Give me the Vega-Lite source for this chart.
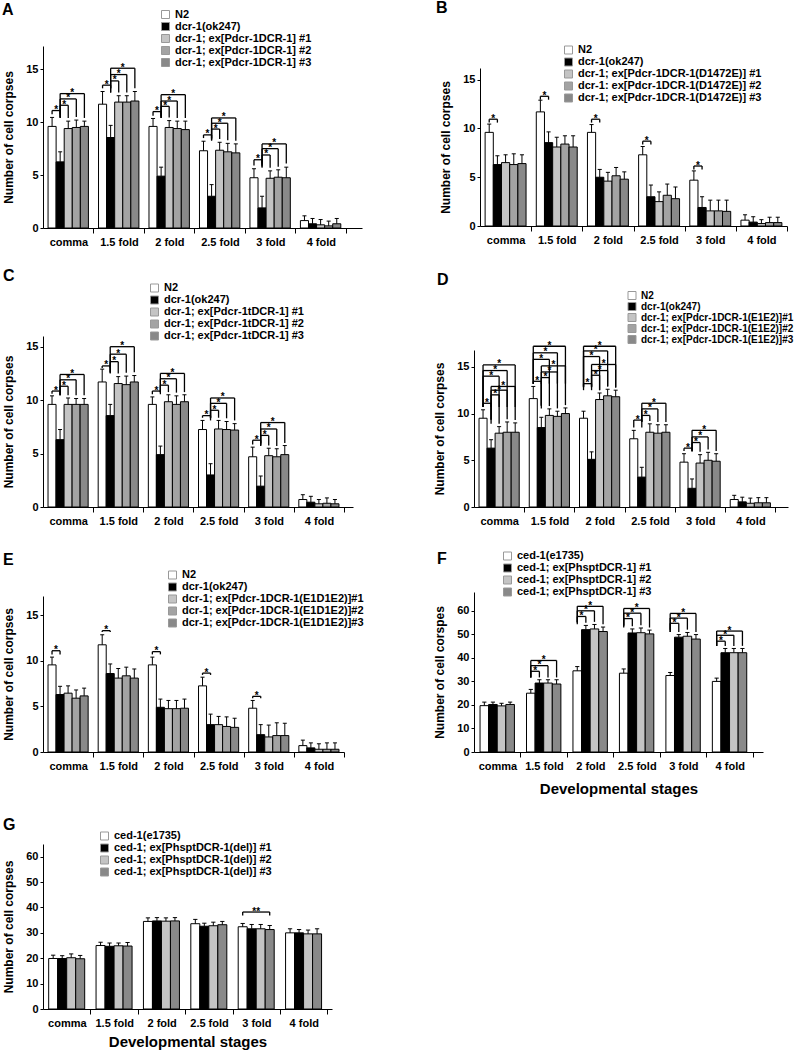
{
"$schema": "https://vega.github.io/schema/vega-lite/v6.json",
"background": "white",
"padding": {"left": 2, "top": -1, "right": 0, "bottom": 2},
"datasets": {
"strains": [
{"k":"A0","name":"N2"},{"k":"A1","name":"dcr-1(ok247)"},{"k":"A2","name":"dcr-1; ex[Pdcr-1DCR-1] #1"},{"k":"A3","name":"dcr-1; ex[Pdcr-1DCR-1] #2"},{"k":"A4","name":"dcr-1; ex[Pdcr-1DCR-1] #3"},
{"k":"B0","name":"N2"},{"k":"B1","name":"dcr-1(ok247)"},{"k":"B2","name":"dcr-1; ex[Pdcr-1DCR-1(D1472E)] #1"},{"k":"B3","name":"dcr-1: ex[Pdcr-1DCR-1(D1472E)] #2"},{"k":"B4","name":"dcr-1; ex[Pdcr-1DCR-1(D1472E)] #3"},
{"k":"C0","name":"N2"},{"k":"C1","name":"dcr-1(ok247)"},{"k":"C2","name":"dcr-1; ex[Pdcr-1tDCR-1] #1"},{"k":"C3","name":"dcr-1; ex[Pdcr-1tDCR-1] #2"},{"k":"C4","name":"dcr-1; ex[Pdcr-1tDCR-1] #3"},
{"k":"D0","name":"N2"},{"k":"D1","name":"dcr-1(ok247)"},{"k":"D2","name":"dcr-1; ex[Pdcr-1DCR-1(E1E2)]#1"},{"k":"D3","name":"dcr-1; ex[Pdcr-1DCR-1(E1E2)]#2"},{"k":"D4","name":"dcr-1; ex[Pdcr-1DCR-1(E1E2)]#3"},
{"k":"E0","name":"N2"},{"k":"E1","name":"dcr-1(ok247)"},{"k":"E2","name":"dcr-1; ex[Pdcr-1DCR-1(E1D1E2)]#1"},{"k":"E3","name":"dcr-1; ex[Pdcr-1DCR-1(E1D1E2)]#2"},{"k":"E4","name":"dcr-1; ex[Pdcr-1DCR-1(E1D1E2)]#3"},
{"k":"F0","name":"ced-1(e1735)"},{"k":"F1","name":"ced-1; ex[PhsptDCR-1] #1"},{"k":"F2","name":"ced-1; ex[PhsptDCR-1] #2"},{"k":"F3","name":"ced-1; ex[PhsptDCR-1] #3"},
{"k":"G0","name":"ced-1(e1735)"},{"k":"G1","name":"ced-1; ex[PhsptDCR-1(del)] #1"},{"k":"G2","name":"ced-1; ex[PhsptDCR-1(del)] #2"},{"k":"G3","name":"ced-1; ex[PhsptDCR-1(del)] #3"}
],
"bars": [
{"p":"A","s":"comma","g":0,"m":9.6,"e":0.85},{"p":"A","s":"comma","g":1,"m":6.25,"e":0.95},{"p":"A","s":"comma","g":2,"m":9.4,"e":0.7},{"p":"A","s":"comma","g":3,"m":9.5,"e":0.7},{"p":"A","s":"comma","g":4,"m":9.6,"e":0.5},
{"p":"A","s":"1.5 fold","g":0,"m":11.7,"e":1.2},{"p":"A","s":"1.5 fold","g":1,"m":8.55,"e":1.15},{"p":"A","s":"1.5 fold","g":2,"m":11.9,"e":0.6},{"p":"A","s":"1.5 fold","g":3,"m":11.9,"e":0.6},{"p":"A","s":"1.5 fold","g":4,"m":12.0,"e":0.9},
{"p":"A","s":"2 fold","g":0,"m":9.6,"e":0.75},{"p":"A","s":"2 fold","g":1,"m":4.9,"e":0.85},{"p":"A","s":"2 fold","g":2,"m":9.5,"e":0.65},{"p":"A","s":"2 fold","g":3,"m":9.4,"e":0.7},{"p":"A","s":"2 fold","g":4,"m":9.3,"e":0.8},
{"p":"A","s":"2.5 fold","g":0,"m":7.3,"e":0.9},{"p":"A","s":"2.5 fold","g":1,"m":3.0,"e":1.1},{"p":"A","s":"2.5 fold","g":2,"m":7.35,"e":0.75},{"p":"A","s":"2.5 fold","g":3,"m":7.2,"e":0.8},{"p":"A","s":"2.5 fold","g":4,"m":7.1,"e":0.85},
{"p":"A","s":"3 fold","g":0,"m":4.75,"e":0.85},{"p":"A","s":"3 fold","g":1,"m":1.9,"e":1.1},{"p":"A","s":"3 fold","g":2,"m":4.7,"e":0.7},{"p":"A","s":"3 fold","g":3,"m":4.8,"e":0.7},{"p":"A","s":"3 fold","g":4,"m":4.75,"e":1.0},
{"p":"A","s":"4 fold","g":0,"m":0.7,"e":0.45},{"p":"A","s":"4 fold","g":1,"m":0.4,"e":0.5},{"p":"A","s":"4 fold","g":2,"m":0.3,"e":0.5},{"p":"A","s":"4 fold","g":3,"m":0.2,"e":0.45},{"p":"A","s":"4 fold","g":4,"m":0.4,"e":0.5},
{"p":"B","s":"comma","g":0,"m":9.6,"e":0.85},{"p":"B","s":"comma","g":1,"m":6.3,"e":0.9},{"p":"B","s":"comma","g":2,"m":6.5,"e":0.8},{"p":"B","s":"comma","g":3,"m":6.3,"e":1.1},{"p":"B","s":"comma","g":4,"m":6.4,"e":0.9},
{"p":"B","s":"1.5 fold","g":0,"m":11.7,"e":1.2},{"p":"B","s":"1.5 fold","g":1,"m":8.55,"e":1.1},{"p":"B","s":"1.5 fold","g":2,"m":8.1,"e":1.0},{"p":"B","s":"1.5 fold","g":3,"m":8.4,"e":0.85},{"p":"B","s":"1.5 fold","g":4,"m":8.1,"e":1.15},
{"p":"B","s":"2 fold","g":0,"m":9.6,"e":0.8},{"p":"B","s":"2 fold","g":1,"m":5.0,"e":0.8},{"p":"B","s":"2 fold","g":2,"m":4.6,"e":0.9},{"p":"B","s":"2 fold","g":3,"m":5.15,"e":0.85},{"p":"B","s":"2 fold","g":4,"m":4.8,"e":0.75},
{"p":"B","s":"2.5 fold","g":0,"m":7.3,"e":0.85},{"p":"B","s":"2.5 fold","g":1,"m":3.0,"e":1.2},{"p":"B","s":"2.5 fold","g":2,"m":2.5,"e":1.0},{"p":"B","s":"2.5 fold","g":3,"m":3.15,"e":1.15},{"p":"B","s":"2.5 fold","g":4,"m":2.8,"e":1.2},
{"p":"B","s":"3 fold","g":0,"m":4.7,"e":0.95},{"p":"B","s":"3 fold","g":1,"m":1.9,"e":1.1},{"p":"B","s":"3 fold","g":2,"m":1.55,"e":1.1},{"p":"B","s":"3 fold","g":3,"m":1.55,"e":1.1},{"p":"B","s":"3 fold","g":4,"m":1.5,"e":1.15},
{"p":"B","s":"4 fold","g":0,"m":0.6,"e":0.55},{"p":"B","s":"4 fold","g":1,"m":0.4,"e":0.55},{"p":"B","s":"4 fold","g":2,"m":0.25,"e":0.4},{"p":"B","s":"4 fold","g":3,"m":0.35,"e":0.55},{"p":"B","s":"4 fold","g":4,"m":0.35,"e":0.55},
{"p":"C","s":"comma","g":0,"m":9.6,"e":0.8},{"p":"C","s":"comma","g":1,"m":6.3,"e":0.95},{"p":"C","s":"comma","g":2,"m":9.6,"e":0.6},{"p":"C","s":"comma","g":3,"m":9.6,"e":0.55},{"p":"C","s":"comma","g":4,"m":9.6,"e":0.55},
{"p":"C","s":"1.5 fold","g":0,"m":11.7,"e":1.2},{"p":"C","s":"1.5 fold","g":1,"m":8.55,"e":1.05},{"p":"C","s":"1.5 fold","g":2,"m":11.55,"e":0.65},{"p":"C","s":"1.5 fold","g":3,"m":11.45,"e":0.8},{"p":"C","s":"1.5 fold","g":4,"m":11.7,"e":0.6},
{"p":"C","s":"2 fold","g":0,"m":9.6,"e":0.7},{"p":"C","s":"2 fold","g":1,"m":4.9,"e":0.8},{"p":"C","s":"2 fold","g":2,"m":9.85,"e":0.65},{"p":"C","s":"2 fold","g":3,"m":9.6,"e":0.8},{"p":"C","s":"2 fold","g":4,"m":9.85,"e":0.65},
{"p":"C","s":"2.5 fold","g":0,"m":7.25,"e":0.85},{"p":"C","s":"2.5 fold","g":1,"m":3.0,"e":1.05},{"p":"C","s":"2.5 fold","g":2,"m":7.3,"e":0.8},{"p":"C","s":"2.5 fold","g":3,"m":7.25,"e":0.75},{"p":"C","s":"2.5 fold","g":4,"m":7.2,"e":0.6},
{"p":"C","s":"3 fold","g":0,"m":4.7,"e":0.9},{"p":"C","s":"3 fold","g":1,"m":1.95,"e":0.95},{"p":"C","s":"3 fold","g":2,"m":4.8,"e":0.7},{"p":"C","s":"3 fold","g":3,"m":4.7,"e":0.75},{"p":"C","s":"3 fold","g":4,"m":4.9,"e":0.85},
{"p":"C","s":"4 fold","g":0,"m":0.7,"e":0.45},{"p":"C","s":"4 fold","g":1,"m":0.45,"e":0.55},{"p":"C","s":"4 fold","g":2,"m":0.3,"e":0.4},{"p":"C","s":"4 fold","g":3,"m":0.35,"e":0.5},{"p":"C","s":"4 fold","g":4,"m":0.3,"e":0.4},
{"p":"D","s":"comma","g":0,"m":9.5,"e":0.9},{"p":"D","s":"comma","g":1,"m":6.3,"e":0.9},{"p":"D","s":"comma","g":2,"m":7.9,"e":0.7},{"p":"D","s":"comma","g":3,"m":8.0,"e":1.1},{"p":"D","s":"comma","g":4,"m":8.0,"e":1.0},
{"p":"D","s":"1.5 fold","g":0,"m":11.6,"e":1.3},{"p":"D","s":"1.5 fold","g":1,"m":8.5,"e":1.1},{"p":"D","s":"1.5 fold","g":2,"m":9.8,"e":0.7},{"p":"D","s":"1.5 fold","g":3,"m":9.7,"e":0.55},{"p":"D","s":"1.5 fold","g":4,"m":10.0,"e":0.6},
{"p":"D","s":"2 fold","g":0,"m":9.5,"e":0.75},{"p":"D","s":"2 fold","g":1,"m":5.1,"e":0.8},{"p":"D","s":"2 fold","g":2,"m":11.5,"e":0.7},{"p":"D","s":"2 fold","g":3,"m":11.9,"e":0.7},{"p":"D","s":"2 fold","g":4,"m":11.8,"e":0.7},
{"p":"D","s":"2.5 fold","g":0,"m":7.3,"e":0.9},{"p":"D","s":"2.5 fold","g":1,"m":3.2,"e":1.05},{"p":"D","s":"2.5 fold","g":2,"m":8.0,"e":0.9},{"p":"D","s":"2.5 fold","g":3,"m":7.9,"e":0.9},{"p":"D","s":"2.5 fold","g":4,"m":8.0,"e":0.8},
{"p":"D","s":"3 fold","g":0,"m":4.8,"e":0.9},{"p":"D","s":"3 fold","g":1,"m":2.0,"e":1.0},{"p":"D","s":"3 fold","g":2,"m":4.7,"e":0.9},{"p":"D","s":"3 fold","g":3,"m":5.0,"e":0.85},{"p":"D","s":"3 fold","g":4,"m":4.9,"e":0.8},
{"p":"D","s":"4 fold","g":0,"m":0.8,"e":0.45},{"p":"D","s":"4 fold","g":1,"m":0.55,"e":0.5},{"p":"D","s":"4 fold","g":2,"m":0.4,"e":0.55},{"p":"D","s":"4 fold","g":3,"m":0.45,"e":0.55},{"p":"D","s":"4 fold","g":4,"m":0.45,"e":0.55},
{"p":"E","s":"comma","g":0,"m":9.55,"e":0.85},{"p":"E","s":"comma","g":1,"m":6.3,"e":0.9},{"p":"E","s":"comma","g":2,"m":6.45,"e":0.8},{"p":"E","s":"comma","g":3,"m":5.9,"e":0.9},{"p":"E","s":"comma","g":4,"m":6.15,"e":0.85},
{"p":"E","s":"1.5 fold","g":0,"m":11.75,"e":1.1},{"p":"E","s":"1.5 fold","g":1,"m":8.6,"e":1.05},{"p":"E","s":"1.5 fold","g":2,"m":8.1,"e":1.05},{"p":"E","s":"1.5 fold","g":3,"m":8.35,"e":0.95},{"p":"E","s":"1.5 fold","g":4,"m":8.1,"e":1.0},
{"p":"E","s":"2 fold","g":0,"m":9.55,"e":0.85},{"p":"E","s":"2 fold","g":1,"m":4.9,"e":0.9},{"p":"E","s":"2 fold","g":2,"m":4.75,"e":0.9},{"p":"E","s":"2 fold","g":3,"m":4.75,"e":0.9},{"p":"E","s":"2 fold","g":4,"m":4.8,"e":1.0},
{"p":"E","s":"2.5 fold","g":0,"m":7.25,"e":0.95},{"p":"E","s":"2.5 fold","g":1,"m":3.0,"e":1.15},{"p":"E","s":"2.5 fold","g":2,"m":3.0,"e":0.9},{"p":"E","s":"2.5 fold","g":3,"m":2.8,"e":1.05},{"p":"E","s":"2.5 fold","g":4,"m":2.7,"e":1.0},
{"p":"E","s":"3 fold","g":0,"m":4.8,"e":0.85},{"p":"E","s":"3 fold","g":1,"m":1.9,"e":1.1},{"p":"E","s":"3 fold","g":2,"m":1.65,"e":1.3},{"p":"E","s":"3 fold","g":3,"m":1.8,"e":1.4},{"p":"E","s":"3 fold","g":4,"m":1.8,"e":1.35},
{"p":"E","s":"4 fold","g":0,"m":0.7,"e":0.6},{"p":"E","s":"4 fold","g":1,"m":0.45,"e":0.55},{"p":"E","s":"4 fold","g":2,"m":0.3,"e":0.6},{"p":"E","s":"4 fold","g":3,"m":0.3,"e":0.7},{"p":"E","s":"4 fold","g":4,"m":0.3,"e":0.7},
{"p":"F","s":"comma","g":0,"m":19.7,"e":1.5},{"p":"F","s":"comma","g":1,"m":20.2,"e":1.0},{"p":"F","s":"comma","g":2,"m":19.6,"e":1.1},{"p":"F","s":"comma","g":3,"m":20.2,"e":1.0},
{"p":"F","s":"1.5 fold","g":0,"m":25.0,"e":1.6},{"p":"F","s":"1.5 fold","g":1,"m":29.3,"e":1.4},{"p":"F","s":"1.5 fold","g":2,"m":29.3,"e":1.4},{"p":"F","s":"1.5 fold","g":3,"m":28.9,"e":1.8},
{"p":"F","s":"2 fold","g":0,"m":34.5,"e":1.8},{"p":"F","s":"2 fold","g":1,"m":52.0,"e":1.8},{"p":"F","s":"2 fold","g":2,"m":52.3,"e":1.9},{"p":"F","s":"2 fold","g":3,"m":51.2,"e":1.9},
{"p":"F","s":"2.5 fold","g":0,"m":33.5,"e":1.8},{"p":"F","s":"2.5 fold","g":1,"m":50.6,"e":1.7},{"p":"F","s":"2.5 fold","g":2,"m":50.7,"e":2.0},{"p":"F","s":"2.5 fold","g":3,"m":50.2,"e":1.6},
{"p":"F","s":"3 fold","g":0,"m":32.5,"e":1.3},{"p":"F","s":"3 fold","g":1,"m":48.8,"e":1.1},{"p":"F","s":"3 fold","g":2,"m":49.2,"e":1.6},{"p":"F","s":"3 fold","g":3,"m":48.0,"e":1.9},
{"p":"F","s":"4 fold","g":0,"m":30.0,"e":1.4},{"p":"F","s":"4 fold","g":1,"m":42.2,"e":1.8},{"p":"F","s":"4 fold","g":2,"m":42.2,"e":1.8},{"p":"F","s":"4 fold","g":3,"m":42.2,"e":1.8},
{"p":"G","s":"comma","g":0,"m":19.9,"e":1.3},{"p":"G","s":"comma","g":1,"m":19.9,"e":1.1},{"p":"G","s":"comma","g":2,"m":20.2,"e":1.5},{"p":"G","s":"comma","g":3,"m":19.8,"e":1.3},
{"p":"G","s":"1.5 fold","g":0,"m":25.0,"e":1.3},{"p":"G","s":"1.5 fold","g":1,"m":24.7,"e":1.3},{"p":"G","s":"1.5 fold","g":2,"m":24.9,"e":1.1},{"p":"G","s":"1.5 fold","g":3,"m":24.8,"e":1.4},
{"p":"G","s":"2 fold","g":0,"m":34.5,"e":1.4},{"p":"G","s":"2 fold","g":1,"m":34.7,"e":1.3},{"p":"G","s":"2 fold","g":2,"m":34.6,"e":1.3},{"p":"G","s":"2 fold","g":3,"m":34.7,"e":1.3},
{"p":"G","s":"2.5 fold","g":0,"m":33.6,"e":1.7},{"p":"G","s":"2.5 fold","g":1,"m":32.6,"e":1.2},{"p":"G","s":"2.5 fold","g":2,"m":32.8,"e":1.4},{"p":"G","s":"2.5 fold","g":3,"m":33.2,"e":1.3},
{"p":"G","s":"3 fold","g":0,"m":32.4,"e":1.3},{"p":"G","s":"3 fold","g":1,"m":31.6,"e":1.7},{"p":"G","s":"3 fold","g":2,"m":31.6,"e":1.7},{"p":"G","s":"3 fold","g":3,"m":31.3,"e":1.6},
{"p":"G","s":"4 fold","g":0,"m":30.0,"e":1.6},{"p":"G","s":"4 fold","g":1,"m":30.0,"e":1.3},{"p":"G","s":"4 fold","g":2,"m":29.6,"e":1.5},{"p":"G","s":"4 fold","g":3,"m":29.6,"e":2.0}
],
"brk": [
{"p":"A","s":"comma","a":0,"b":1,"h":11.1,"lo":10.75,"t":"*"},{"p":"A","s":"comma","a":1,"b":2,"h":11.6,"lo":10.4,"t":"*"},{"p":"A","s":"comma","a":1,"b":3,"h":12.2,"lo":10.5,"t":"*"},{"p":"A","s":"comma","a":1,"b":4,"h":12.7,"lo":10.4,"t":"*"},
{"p":"A","s":"1.5 fold","a":0,"b":1,"h":13.5,"lo":13.2,"t":"*"},{"p":"A","s":"1.5 fold","a":1,"b":2,"h":13.9,"lo":12.8,"t":"*"},{"p":"A","s":"1.5 fold","a":1,"b":3,"h":14.5,"lo":12.8,"t":"*"},{"p":"A","s":"1.5 fold","a":1,"b":4,"h":15.1,"lo":13.2,"t":"*"},
{"p":"A","s":"2 fold","a":0,"b":1,"h":11.0,"lo":10.6,"t":"*"},{"p":"A","s":"2 fold","a":1,"b":2,"h":11.5,"lo":10.45,"t":"*"},{"p":"A","s":"2 fold","a":1,"b":3,"h":12.0,"lo":10.4,"t":"*"},{"p":"A","s":"2 fold","a":1,"b":4,"h":12.6,"lo":10.4,"t":"*"},
{"p":"A","s":"2.5 fold","a":0,"b":1,"h":8.8,"lo":8.5,"t":"*"},{"p":"A","s":"2.5 fold","a":1,"b":2,"h":9.35,"lo":8.4,"t":"*"},{"p":"A","s":"2.5 fold","a":1,"b":3,"h":9.9,"lo":8.3,"t":"*"},{"p":"A","s":"2.5 fold","a":1,"b":4,"h":10.4,"lo":8.25,"t":"*"},
{"p":"A","s":"3 fold","a":0,"b":1,"h":6.45,"lo":5.9,"t":"*"},{"p":"A","s":"3 fold","a":1,"b":2,"h":6.9,"lo":5.7,"t":"*"},{"p":"A","s":"3 fold","a":1,"b":3,"h":7.5,"lo":5.8,"t":"*"},{"p":"A","s":"3 fold","a":1,"b":4,"h":7.95,"lo":6.1,"t":"*"},
{"p":"B","s":"comma","a":0,"b":1,"h":10.95,"lo":10.6,"t":"*"},{"p":"B","s":"1.5 fold","a":0,"b":1,"h":13.3,"lo":12.95,"t":"*"},{"p":"B","s":"2 fold","a":0,"b":1,"h":10.95,"lo":10.6,"t":"*"},{"p":"B","s":"2.5 fold","a":0,"b":1,"h":8.7,"lo":8.35,"t":"*"},{"p":"B","s":"3 fold","a":0,"b":1,"h":6.15,"lo":5.8,"t":"*"},
{"p":"C","s":"comma","a":0,"b":1,"h":10.85,"lo":10.6,"t":"*"},{"p":"C","s":"comma","a":1,"b":2,"h":11.3,"lo":10.45,"t":"*"},{"p":"C","s":"comma","a":1,"b":3,"h":11.9,"lo":10.45,"t":"*"},{"p":"C","s":"comma","a":1,"b":4,"h":12.4,"lo":10.45,"t":"*"},
{"p":"C","s":"1.5 fold","a":0,"b":1,"h":13.2,"lo":13.0,"t":"*"},{"p":"C","s":"1.5 fold","a":1,"b":2,"h":13.6,"lo":12.5,"t":"*"},{"p":"C","s":"1.5 fold","a":1,"b":3,"h":14.3,"lo":12.55,"t":"*"},{"p":"C","s":"1.5 fold","a":1,"b":4,"h":15.0,"lo":12.6,"t":"*"},
{"p":"C","s":"2 fold","a":0,"b":1,"h":10.85,"lo":10.55,"t":"*"},{"p":"C","s":"2 fold","a":1,"b":2,"h":11.4,"lo":10.75,"t":"*"},{"p":"C","s":"2 fold","a":1,"b":3,"h":12.0,"lo":10.7,"t":"*"},{"p":"C","s":"2 fold","a":1,"b":4,"h":12.5,"lo":10.75,"t":"*"},
{"p":"C","s":"2.5 fold","a":0,"b":1,"h":8.55,"lo":8.35,"t":"*"},{"p":"C","s":"2.5 fold","a":1,"b":2,"h":9.05,"lo":8.35,"t":"*"},{"p":"C","s":"2.5 fold","a":1,"b":3,"h":9.7,"lo":8.3,"t":"*"},{"p":"C","s":"2.5 fold","a":1,"b":4,"h":10.2,"lo":8.1,"t":"*"},
{"p":"C","s":"3 fold","a":0,"b":1,"h":6.25,"lo":5.85,"t":"*"},{"p":"C","s":"3 fold","a":1,"b":2,"h":6.7,"lo":5.75,"t":"*"},{"p":"C","s":"3 fold","a":1,"b":3,"h":7.3,"lo":5.7,"t":"*"},{"p":"C","s":"3 fold","a":1,"b":4,"h":7.9,"lo":6.0,"t":"*"},
{"p":"D","s":"comma","a":0,"b":1,"h":11.1,"lo":10.7,"t":"*"},{"p":"D","s":"comma","a":1,"b":2,"h":12.0,"lo":8.9,"t":"*"},{"p":"D","s":"comma","a":1,"b":3,"h":12.5,"lo":9.4,"t":"*"},{"p":"D","s":"comma","a":1,"b":4,"h":12.9,"lo":9.3,"t":"*"},{"p":"D","s":"comma","a":0,"b":2,"h":14.0,"lo":10.7,"t":"*"},{"p":"D","s":"comma","a":0,"b":3,"h":14.6,"lo":10.7,"t":"*"},{"p":"D","s":"comma","a":0,"b":4,"h":15.2,"lo":10.7,"t":"*"},
{"p":"D","s":"1.5 fold","a":0,"b":1,"h":13.45,"lo":13.15,"t":"*"},{"p":"D","s":"1.5 fold","a":1,"b":2,"h":13.85,"lo":10.8,"t":"*"},{"p":"D","s":"1.5 fold","a":1,"b":3,"h":14.45,"lo":10.55,"t":"*"},{"p":"D","s":"1.5 fold","a":1,"b":4,"h":15.1,"lo":10.9,"t":"*"},{"p":"D","s":"1.5 fold","a":0,"b":2,"h":15.8,"lo":13.2,"t":"*"},{"p":"D","s":"1.5 fold","a":0,"b":3,"h":16.5,"lo":13.2,"t":"*"},{"p":"D","s":"1.5 fold","a":0,"b":4,"h":17.2,"lo":13.2,"t":"*"},
{"p":"D","s":"2 fold","a":0,"b":1,"h":13.2,"lo":12.85,"t":"*"},{"p":"D","s":"2 fold","a":1,"b":2,"h":14.1,"lo":12.5,"t":"*"},{"p":"D","s":"2 fold","a":1,"b":3,"h":14.6,"lo":12.9,"t":"*"},{"p":"D","s":"2 fold","a":1,"b":4,"h":15.25,"lo":12.8,"t":"*"},{"p":"D","s":"2 fold","a":0,"b":2,"h":16.1,"lo":12.5,"t":"*"},{"p":"D","s":"2 fold","a":0,"b":3,"h":16.7,"lo":12.9,"t":"*"},{"p":"D","s":"2 fold","a":0,"b":4,"h":17.2,"lo":12.8,"t":"*"},
{"p":"D","s":"2.5 fold","a":0,"b":1,"h":9.3,"lo":8.5,"t":"*"},{"p":"D","s":"2.5 fold","a":1,"b":2,"h":9.8,"lo":9.2,"t":"*"},{"p":"D","s":"2.5 fold","a":1,"b":3,"h":10.5,"lo":9.1,"t":"*"},{"p":"D","s":"2.5 fold","a":1,"b":4,"h":11.1,"lo":9.1,"t":"*"},
{"p":"D","s":"3 fold","a":0,"b":1,"h":6.3,"lo":6.0,"t":"*"},{"p":"D","s":"3 fold","a":1,"b":2,"h":6.9,"lo":5.9,"t":"*"},{"p":"D","s":"3 fold","a":1,"b":3,"h":7.5,"lo":6.15,"t":"*"},{"p":"D","s":"3 fold","a":1,"b":4,"h":8.2,"lo":6.0,"t":"*"},
{"p":"E","s":"comma","a":0,"b":1,"h":11.1,"lo":10.7,"t":"*"},{"p":"E","s":"1.5 fold","a":0,"b":1,"h":13.3,"lo":13.15,"t":"*"},{"p":"E","s":"2 fold","a":0,"b":1,"h":11.0,"lo":10.7,"t":"*"},{"p":"E","s":"2.5 fold","a":0,"b":1,"h":8.65,"lo":8.45,"t":"*"},{"p":"E","s":"3 fold","a":0,"b":1,"h":6.1,"lo":5.9,"t":"*"},
{"p":"F","s":"1.5 fold","a":0,"b":1,"h":34.3,"lo":31.7,"t":"*"},{"p":"F","s":"1.5 fold","a":0,"b":2,"h":36.7,"lo":31.7,"t":"*"},{"p":"F","s":"1.5 fold","a":0,"b":3,"h":38.9,"lo":31.7,"t":"*"},
{"p":"F","s":"2 fold","a":0,"b":1,"h":57.6,"lo":54.9,"t":"*"},{"p":"F","s":"2 fold","a":0,"b":2,"h":60.0,"lo":55.3,"t":"*"},{"p":"F","s":"2 fold","a":0,"b":3,"h":61.9,"lo":54.3,"t":"*"},
{"p":"F","s":"2.5 fold","a":0,"b":1,"h":56.7,"lo":53.4,"t":"*"},{"p":"F","s":"2.5 fold","a":0,"b":2,"h":59.0,"lo":53.9,"t":"*"},{"p":"F","s":"2.5 fold","a":0,"b":3,"h":61.0,"lo":52.9,"t":"*"},
{"p":"F","s":"3 fold","a":0,"b":1,"h":54.7,"lo":51.0,"t":"*"},{"p":"F","s":"3 fold","a":0,"b":2,"h":56.9,"lo":52.0,"t":"*"},{"p":"F","s":"3 fold","a":0,"b":3,"h":58.9,"lo":51.0,"t":"*"},
{"p":"F","s":"4 fold","a":0,"b":1,"h":47.1,"lo":45.1,"t":"*"},{"p":"F","s":"4 fold","a":0,"b":2,"h":49.6,"lo":45.1,"t":"*"},{"p":"F","s":"4 fold","a":0,"b":3,"h":51.4,"lo":45.1,"t":"*"},
{"p":"G","s":"3 fold","a":0,"b":3,"h":38.2,"lo":36.8,"t":"**"}
]
},
"columns": 2,
"concat": [
 {"width": 319, "height": 182, "title": {"text": "A", "dx": -41, "offset": -8.5},
  "layer": [
   {"data": {"name": "bars"},
    "transform": [{"filter": "datum.p==='A'"},{"calculate": "datum.p+datum.g", "as": "k"},{"lookup": "k", "from": {"data": {"name": "strains"}, "key": "k", "fields": ["name"]}},
     {"calculate": "indexof(['comma','1.5 fold','2 fold','2.5 fold','3 fold','4 fold'],datum.s)+(datum.g-2)*0.16", "as": "xc"},
     {"calculate": "datum.xc-0.08", "as": "x1"},{"calculate": "datum.xc+0.08", "as": "x2"},{"calculate": "datum.xc-0.04", "as": "c1"},{"calculate": "datum.xc+0.04", "as": "c2"},{"calculate": "datum.m+datum.e", "as": "top"}],
    "layer": [
     {"mark": {"type": "rect", "stroke": "#000", "strokeWidth": 1},
      "encoding": {
       "x": {"field": "x1", "type": "quantitative", "scale": {"domain": [-0.5, 5.82], "nice": false, "zero": false}, "axis": {"values": [0.5,1.5,2.5,3.5,4.5,5.5], "labelExpr": "['comma','1.5 fold','2 fold','2.5 fold','3 fold','4 fold'][floor(datum.value)]", "labelOffset": -25, "title": null}},
       "x2": {"field": "x2"},
       "y": {"field": "m", "type": "quantitative", "scale": {"domain": [0, 17.2], "nice": false}, "axis": {"values": [0,5,10,15], "tickCount": 4, "title": "Number of cell corpses"}},
       "y2": {"datum": 0},
       "color": {"field": "name", "type": "nominal", "scale": {"domain": ["N2","dcr-1(ok247)","dcr-1; ex[Pdcr-1DCR-1] #1","dcr-1; ex[Pdcr-1DCR-1] #2","dcr-1; ex[Pdcr-1DCR-1] #3"], "range": ["#ffffff","#000000","#c4c4c4","#a3a3a3","#898989"]}, "legend": {"title": null, "legendX": 117, "legendY": -37}}
      }},
     {"mark": {"type": "rule", "color": "#000"}, "encoding": {"x": {"field": "xc", "type": "quantitative"}, "y": {"field": "m", "type": "quantitative"}, "y2": {"field": "top"}}},
     {"mark": {"type": "rule", "color": "#000"}, "encoding": {"x": {"field": "c1", "type": "quantitative"}, "x2": {"field": "c2"}, "y": {"field": "top", "type": "quantitative"}}}
    ]},
   {"data": {"name": "brk"},
    "transform": [{"filter": "datum.p==='A'"},{"calculate": "indexof(['comma','1.5 fold','2 fold','2.5 fold','3 fold','4 fold'],datum.s)", "as": "si"},
     {"calculate": "datum.si+(datum.a-2)*0.16", "as": "xa"},{"calculate": "datum.si+(datum.b-2)*0.16", "as": "xb"},{"calculate": "(datum.xa+datum.xb)/2", "as": "xm"}],
    "layer": [
     {"mark": {"type": "rule", "color": "#000", "strokeWidth": 1.3}, "encoding": {"x": {"field": "xa", "type": "quantitative"}, "x2": {"field": "xb"}, "y": {"field": "h", "type": "quantitative"}}},
     {"transform": [{"fold": ["xa","xb"], "as": ["side","xl"]}], "mark": {"type": "rule", "color": "#000", "strokeWidth": 1.3}, "encoding": {"x": {"field": "xl", "type": "quantitative"}, "y": {"field": "h", "type": "quantitative"}, "y2": {"field": "lo"}}},
     {"mark": {"type": "text", "color": "#000", "fontSize": 10, "fontWeight": "bold", "baseline": "alphabetic", "dy": 2.5}, "encoding": {"x": {"field": "xm", "type": "quantitative"}, "y": {"field": "h", "type": "quantitative"}, "text": {"field": "t"}}}
    ]}
  ]},
 {"width": 313, "height": 180, "title": {"text": "B", "dx": -38, "offset": 29},
  "layer": [
   {"data": {"name": "bars"},
    "transform": [{"filter": "datum.p==='B'"},{"calculate": "datum.p+datum.g", "as": "k"},{"lookup": "k", "from": {"data": {"name": "strains"}, "key": "k", "fields": ["name"]}},
     {"calculate": "indexof(['comma','1.5 fold','2 fold','2.5 fold','3 fold','4 fold'],datum.s)+(datum.g-2)*0.16", "as": "xc"},
     {"calculate": "datum.xc-0.08", "as": "x1"},{"calculate": "datum.xc+0.08", "as": "x2"},{"calculate": "datum.xc-0.04", "as": "c1"},{"calculate": "datum.xc+0.04", "as": "c2"},{"calculate": "datum.m+datum.e", "as": "top"}],
    "layer": [
     {"mark": {"type": "rect", "stroke": "#000", "strokeWidth": 1},
      "encoding": {
       "x": {"field": "x1", "type": "quantitative", "scale": {"domain": [-0.5, 5.5], "range": [6, 313], "nice": false, "zero": false}, "axis": {"values": [0.5,1.5,2.5,3.5,4.5,5.5], "labelExpr": "['comma','1.5 fold','2 fold','2.5 fold','3 fold','4 fold'][floor(datum.value)]", "labelOffset": -25.6, "title": null}},
       "x2": {"field": "x2"},
       "y": {"field": "m", "type": "quantitative", "scale": {"domain": [0, 16.2], "range": [180, 22], "nice": false}, "axis": {"values": [0,5,10,15], "tickCount": 4, "title": "Number of cell corpses", "offset": -6}},
       "y2": {"datum": 0},
       "color": {"field": "name", "type": "nominal", "scale": {"domain": ["N2","dcr-1(ok247)","dcr-1; ex[Pdcr-1DCR-1(D1472E)] #1","dcr-1: ex[Pdcr-1DCR-1(D1472E)] #2","dcr-1; ex[Pdcr-1DCR-1(D1472E)] #3"], "range": ["#ffffff","#000000","#c4c4c4","#a3a3a3","#898989"]}, "legend": {"title": null, "legendX": 89, "legendY": -1.5}}
      }},
     {"mark": {"type": "rule", "color": "#000"}, "encoding": {"x": {"field": "xc", "type": "quantitative"}, "y": {"field": "m", "type": "quantitative"}, "y2": {"field": "top"}}},
     {"mark": {"type": "rule", "color": "#000"}, "encoding": {"x": {"field": "c1", "type": "quantitative"}, "x2": {"field": "c2"}, "y": {"field": "top", "type": "quantitative"}}}
    ]},
   {"data": {"name": "brk"},
    "transform": [{"filter": "datum.p==='B'"},{"calculate": "indexof(['comma','1.5 fold','2 fold','2.5 fold','3 fold','4 fold'],datum.s)", "as": "si"},
     {"calculate": "datum.si+(datum.a-2)*0.16", "as": "xa"},{"calculate": "datum.si+(datum.b-2)*0.16", "as": "xb"},{"calculate": "(datum.xa+datum.xb)/2", "as": "xm"}],
    "layer": [
     {"mark": {"type": "rule", "color": "#000", "strokeWidth": 1.3}, "encoding": {"x": {"field": "xa", "type": "quantitative"}, "x2": {"field": "xb"}, "y": {"field": "h", "type": "quantitative"}}},
     {"transform": [{"fold": ["xa","xb"], "as": ["side","xl"]}], "mark": {"type": "rule", "color": "#000", "strokeWidth": 1.3}, "encoding": {"x": {"field": "xl", "type": "quantitative"}, "y": {"field": "h", "type": "quantitative"}, "y2": {"field": "lo"}}},
     {"mark": {"type": "text", "color": "#000", "fontSize": 10, "fontWeight": "bold", "baseline": "alphabetic", "dy": 2.5}, "encoding": {"x": {"field": "xm", "type": "quantitative"}, "y": {"field": "h", "type": "quantitative"}, "text": {"field": "t"}}}
    ]}
  ]},
 {"width": 310, "height": 195, "title": {"text": "C", "dx": -40, "offset": -1},
  "layer": [
   {"data": {"name": "bars"},
    "transform": [{"filter": "datum.p==='C'"},{"calculate": "datum.p+datum.g", "as": "k"},{"lookup": "k", "from": {"data": {"name": "strains"}, "key": "k", "fields": ["name"]}},
     {"calculate": "indexof(['comma','1.5 fold','2 fold','2.5 fold','3 fold','4 fold'],datum.s)+(datum.g-2)*0.16", "as": "xc"},
     {"calculate": "datum.xc-0.08", "as": "x1"},{"calculate": "datum.xc+0.08", "as": "x2"},{"calculate": "datum.xc-0.04", "as": "c1"},{"calculate": "datum.xc+0.04", "as": "c2"},{"calculate": "datum.m+datum.e", "as": "top"}],
    "layer": [
     {"mark": {"type": "rect", "stroke": "#000", "strokeWidth": 1},
      "encoding": {
       "x": {"field": "x1", "type": "quantitative", "scale": {"domain": [-0.5, 5.68], "nice": false, "zero": false}, "axis": {"values": [0.5,1.5,2.5,3.5,4.5,5.5], "labelExpr": "['comma','1.5 fold','2 fold','2.5 fold','3 fold','4 fold'][floor(datum.value)]", "labelOffset": -25, "title": null}},
       "x2": {"field": "x2"},
       "y": {"field": "m", "type": "quantitative", "scale": {"domain": [0, 16], "range": [195, 24], "nice": false}, "axis": {"values": [0,5,10,15], "tickCount": 4, "title": "Number of cell corpses"}},
       "y2": {"datum": 0},
       "color": {"field": "name", "type": "nominal", "scale": {"domain": ["N2","dcr-1(ok247)","dcr-1; ex[Pdcr-1tDCR-1] #1","dcr-1; ex[Pdcr-1tDCR-1] #2","dcr-1; ex[Pdcr-1tDCR-1] #3"], "range": ["#ffffff","#000000","#c4c4c4","#a3a3a3","#898989"]}, "legend": {"title": null, "legendX": 106, "legendY": -29.5}}
      }},
     {"mark": {"type": "rule", "color": "#000"}, "encoding": {"x": {"field": "xc", "type": "quantitative"}, "y": {"field": "m", "type": "quantitative"}, "y2": {"field": "top"}}},
     {"mark": {"type": "rule", "color": "#000"}, "encoding": {"x": {"field": "c1", "type": "quantitative"}, "x2": {"field": "c2"}, "y": {"field": "top", "type": "quantitative"}}}
    ]},
   {"data": {"name": "brk"},
    "transform": [{"filter": "datum.p==='C'"},{"calculate": "indexof(['comma','1.5 fold','2 fold','2.5 fold','3 fold','4 fold'],datum.s)", "as": "si"},
     {"calculate": "datum.si+(datum.a-2)*0.16", "as": "xa"},{"calculate": "datum.si+(datum.b-2)*0.16", "as": "xb"},{"calculate": "(datum.xa+datum.xb)/2", "as": "xm"}],
    "layer": [
     {"mark": {"type": "rule", "color": "#000", "strokeWidth": 1.3}, "encoding": {"x": {"field": "xa", "type": "quantitative"}, "x2": {"field": "xb"}, "y": {"field": "h", "type": "quantitative"}}},
     {"transform": [{"fold": ["xa","xb"], "as": ["side","xl"]}], "mark": {"type": "rule", "color": "#000", "strokeWidth": 1.3}, "encoding": {"x": {"field": "xl", "type": "quantitative"}, "y": {"field": "h", "type": "quantitative"}, "y2": {"field": "lo"}}},
     {"mark": {"type": "text", "color": "#000", "fontSize": 10, "fontWeight": "bold", "baseline": "alphabetic", "dy": 2.5}, "encoding": {"x": {"field": "xm", "type": "quantitative"}, "y": {"field": "h", "type": "quantitative"}, "text": {"field": "t"}}}
    ]}
  ]},
 {"width": 314, "height": 195, "title": {"text": "D", "dx": -37, "offset": 3},
  "layer": [
   {"data": {"name": "bars"},
    "transform": [{"filter": "datum.p==='D'"},{"calculate": "datum.p+datum.g", "as": "k"},{"lookup": "k", "from": {"data": {"name": "strains"}, "key": "k", "fields": ["name"]}},
     {"calculate": "indexof(['comma','1.5 fold','2 fold','2.5 fold','3 fold','4 fold'],datum.s)+(datum.g-2)*0.16", "as": "xc"},
     {"calculate": "datum.xc-0.08", "as": "x1"},{"calculate": "datum.xc+0.08", "as": "x2"},{"calculate": "datum.xc-0.04", "as": "c1"},{"calculate": "datum.xc+0.04", "as": "c2"},{"calculate": "datum.m+datum.e", "as": "top"}],
    "layer": [
     {"mark": {"type": "rect", "stroke": "#000", "strokeWidth": 1},
      "encoding": {
       "x": {"field": "x1", "type": "quantitative", "scale": {"domain": [-0.5, 5.75], "nice": false, "zero": false}, "axis": {"values": [0.5,1.5,2.5,3.5,4.5,5.5], "labelExpr": "['comma','1.5 fold','2 fold','2.5 fold','3 fold','4 fold'][floor(datum.value)]", "labelOffset": -25, "title": null}},
       "x2": {"field": "x2"},
       "y": {"field": "m", "type": "quantitative", "scale": {"domain": [0, 16.8], "range": [195, 38], "nice": false}, "axis": {"values": [0,5,10,15], "tickCount": 4, "title": "Number of cell corpses"}},
       "y2": {"datum": 0},
       "color": {"field": "name", "type": "nominal", "scale": {"domain": ["N2","dcr-1(ok247)","dcr-1; ex[Pdcr-1DCR-1(E1E2)]#1","dcr-1; ex[Pdcr-1DCR-1(E1E2)]#2","dcr-1; ex[Pdcr-1DCR-1(E1E2)]#3"], "range": ["#ffffff","#000000","#c4c4c4","#a3a3a3","#898989"]}, "legend": {"title": null, "legendX": 153, "legendY": -21.5, "labelFontSize": 10}}
      }},
     {"mark": {"type": "rule", "color": "#000"}, "encoding": {"x": {"field": "xc", "type": "quantitative"}, "y": {"field": "m", "type": "quantitative"}, "y2": {"field": "top"}}},
     {"mark": {"type": "rule", "color": "#000"}, "encoding": {"x": {"field": "c1", "type": "quantitative"}, "x2": {"field": "c2"}, "y": {"field": "top", "type": "quantitative"}}}
    ]},
   {"data": {"name": "brk"},
    "transform": [{"filter": "datum.p==='D'"},{"calculate": "indexof(['comma','1.5 fold','2 fold','2.5 fold','3 fold','4 fold'],datum.s)", "as": "si"},
     {"calculate": "datum.si+(datum.a-2)*0.16", "as": "xa"},{"calculate": "datum.si+(datum.b-2)*0.16", "as": "xb"},{"calculate": "(datum.xa+datum.xb)/2", "as": "xm"}],
    "layer": [
     {"mark": {"type": "rule", "color": "#000", "strokeWidth": 1.3}, "encoding": {"x": {"field": "xa", "type": "quantitative"}, "x2": {"field": "xb"}, "y": {"field": "h", "type": "quantitative"}}},
     {"transform": [{"fold": ["xa","xb"], "as": ["side","xl"]}], "mark": {"type": "rule", "color": "#000", "strokeWidth": 1.3}, "encoding": {"x": {"field": "xl", "type": "quantitative"}, "y": {"field": "h", "type": "quantitative"}, "y2": {"field": "lo"}}},
     {"mark": {"type": "text", "color": "#000", "fontSize": 10, "fontWeight": "bold", "baseline": "alphabetic", "dy": 2.5}, "encoding": {"x": {"field": "xm", "type": "quantitative"}, "y": {"field": "h", "type": "quantitative"}, "text": {"field": "t"}}}
    ]}
  ]},
 {"width": 301, "height": 161, "title": {"text": "E", "dx": -40, "offset": 2},
  "layer": [
   {"data": {"name": "bars"},
    "transform": [{"filter": "datum.p==='E'"},{"calculate": "datum.p+datum.g", "as": "k"},{"lookup": "k", "from": {"data": {"name": "strains"}, "key": "k", "fields": ["name"]}},
     {"calculate": "indexof(['comma','1.5 fold','2 fold','2.5 fold','3 fold','4 fold'],datum.s)+(datum.g-2)*0.16", "as": "xc"},
     {"calculate": "datum.xc-0.08", "as": "x1"},{"calculate": "datum.xc+0.08", "as": "x2"},{"calculate": "datum.xc-0.04", "as": "c1"},{"calculate": "datum.xc+0.04", "as": "c2"},{"calculate": "datum.m+datum.e", "as": "top"}],
    "layer": [
     {"mark": {"type": "rect", "stroke": "#000", "strokeWidth": 1},
      "encoding": {
       "x": {"field": "x1", "type": "quantitative", "scale": {"domain": [-0.5, 5.5], "nice": false, "zero": false}, "axis": {"values": [0.5,1.5,2.5,3.5,4.5,5.5], "labelExpr": "['comma','1.5 fold','2 fold','2.5 fold','3 fold','4 fold'][floor(datum.value)]", "labelOffset": -25, "title": null}},
       "x2": {"field": "x2"},
       "y": {"field": "m", "type": "quantitative", "scale": {"domain": [0, 17.1], "range": [161, 5], "nice": false}, "axis": {"values": [0,5,10,15], "tickCount": 4, "title": "Number of cell corpses"}},
       "y2": {"datum": 0},
       "color": {"field": "name", "type": "nominal", "scale": {"domain": ["N2","dcr-1(ok247)","dcr-1; ex[Pdcr-1DCR-1(E1D1E2)]#1","dcr-1; ex[Pdcr-1DCR-1(E1D1E2)]#2","dcr-1; ex[Pdcr-1DCR-1(E1D1E2)]#3"], "range": ["#ffffff","#000000","#c4c4c4","#a3a3a3","#898989"]}, "legend": {"title": null, "legendX": 124, "legendY": -21.5}}
      }},
     {"mark": {"type": "rule", "color": "#000"}, "encoding": {"x": {"field": "xc", "type": "quantitative"}, "y": {"field": "m", "type": "quantitative"}, "y2": {"field": "top"}}},
     {"mark": {"type": "rule", "color": "#000"}, "encoding": {"x": {"field": "c1", "type": "quantitative"}, "x2": {"field": "c2"}, "y": {"field": "top", "type": "quantitative"}}}
    ]},
   {"data": {"name": "brk"},
    "transform": [{"filter": "datum.p==='E'"},{"calculate": "indexof(['comma','1.5 fold','2 fold','2.5 fold','3 fold','4 fold'],datum.s)", "as": "si"},
     {"calculate": "datum.si+(datum.a-2)*0.16", "as": "xa"},{"calculate": "datum.si+(datum.b-2)*0.16", "as": "xb"},{"calculate": "(datum.xa+datum.xb)/2", "as": "xm"}],
    "layer": [
     {"mark": {"type": "rule", "color": "#000", "strokeWidth": 1.3}, "encoding": {"x": {"field": "xa", "type": "quantitative"}, "x2": {"field": "xb"}, "y": {"field": "h", "type": "quantitative"}}},
     {"transform": [{"fold": ["xa","xb"], "as": ["side","xl"]}], "mark": {"type": "rule", "color": "#000", "strokeWidth": 1.3}, "encoding": {"x": {"field": "xl", "type": "quantitative"}, "y": {"field": "h", "type": "quantitative"}, "y2": {"field": "lo"}}},
     {"mark": {"type": "text", "color": "#000", "fontSize": 10, "fontWeight": "bold", "baseline": "alphabetic", "dy": 2.5}, "encoding": {"x": {"field": "xm", "type": "quantitative"}, "y": {"field": "h", "type": "quantitative"}, "text": {"field": "t"}}}
    ]}
  ]},
 {"width": 289, "height": 161, "title": {"text": "F", "dx": -37, "offset": -16},
  "layer": [
   {"data": {"name": "bars"},
    "transform": [{"filter": "datum.p==='F'"},{"calculate": "datum.p+datum.g", "as": "k"},{"lookup": "k", "from": {"data": {"name": "strains"}, "key": "k", "fields": ["name"]}},
     {"calculate": "indexof(['comma','1.5 fold','2 fold','2.5 fold','3 fold','4 fold'],datum.s)+(datum.g-1.5)*0.185", "as": "xc"},
     {"calculate": "datum.xc-0.0925", "as": "x1"},{"calculate": "datum.xc+0.0925", "as": "x2"},{"calculate": "datum.xc-0.045", "as": "c1"},{"calculate": "datum.xc+0.045", "as": "c2"},{"calculate": "datum.m+datum.e", "as": "top"}],
    "layer": [
     {"mark": {"type": "rect", "stroke": "#000", "strokeWidth": 1},
      "encoding": {
       "x": {"field": "x1", "type": "quantitative", "scale": {"domain": [-0.5, 5.72], "nice": false, "zero": false}, "axis": {"values": [0.5,1.5,2.5,3.5,4.5,5.5], "labelExpr": "['comma','1.5 fold','2 fold','2.5 fold','3 fold','4 fold'][floor(datum.value)]", "labelOffset": -23, "title": "Developmental stages"}},
       "x2": {"field": "x2"},
       "y": {"field": "m", "type": "quantitative", "scale": {"domain": [0, 68], "range": [161, 1], "nice": false}, "axis": {"values": [0,10,20,30,40,50,60], "tickCount": 7, "labelOverlap": false, "title": "Number of cell corspes"}},
       "y2": {"datum": 0},
       "color": {"field": "name", "type": "nominal", "scale": {"domain": ["ced-1(e1735)","ced-1; ex[PhsptDCR-1] #1","ced-1; ex[PhsptDCR-1] #2","ced-1; ex[PhsptDCR-1] #3"], "range": ["#ffffff","#000000","#c4c4c4","#898989"]}, "legend": {"title": null, "legendX": 28, "legendY": -40.5}}
      }},
     {"mark": {"type": "rule", "color": "#000"}, "encoding": {"x": {"field": "xc", "type": "quantitative"}, "y": {"field": "m", "type": "quantitative"}, "y2": {"field": "top"}}},
     {"mark": {"type": "rule", "color": "#000"}, "encoding": {"x": {"field": "c1", "type": "quantitative"}, "x2": {"field": "c2"}, "y": {"field": "top", "type": "quantitative"}}}
    ]},
   {"data": {"name": "brk"},
    "transform": [{"filter": "datum.p==='F'"},{"calculate": "indexof(['comma','1.5 fold','2 fold','2.5 fold','3 fold','4 fold'],datum.s)", "as": "si"},
     {"calculate": "datum.si+(datum.a-1.5)*0.185", "as": "xa"},{"calculate": "datum.si+(datum.b-1.5)*0.185", "as": "xb"},{"calculate": "(datum.xa+datum.xb)/2", "as": "xm"}],
    "layer": [
     {"mark": {"type": "rule", "color": "#000", "strokeWidth": 1.3}, "encoding": {"x": {"field": "xa", "type": "quantitative"}, "x2": {"field": "xb"}, "y": {"field": "h", "type": "quantitative"}}},
     {"transform": [{"fold": ["xa","xb"], "as": ["side","xl"]}], "mark": {"type": "rule", "color": "#000", "strokeWidth": 1.3}, "encoding": {"x": {"field": "xl", "type": "quantitative"}, "y": {"field": "h", "type": "quantitative"}, "y2": {"field": "lo"}}},
     {"mark": {"type": "text", "color": "#000", "fontSize": 10, "fontWeight": "bold", "baseline": "alphabetic", "dy": 2.5}, "encoding": {"x": {"field": "xm", "type": "quantitative"}, "y": {"field": "h", "type": "quantitative"}, "text": {"field": "t"}}}
    ]}
  ]},
 {"width": 289, "height": 173, "title": {"text": "G", "dx": -40, "offset": -2},
  "layer": [
   {"data": {"name": "bars"},
    "transform": [{"filter": "datum.p==='G'"},{"calculate": "datum.p+datum.g", "as": "k"},{"lookup": "k", "from": {"data": {"name": "strains"}, "key": "k", "fields": ["name"]}},
     {"calculate": "indexof(['comma','1.5 fold','2 fold','2.5 fold','3 fold','4 fold'],datum.s)+(datum.g-1.5)*0.19", "as": "xc"},
     {"calculate": "datum.xc-0.095", "as": "x1"},{"calculate": "datum.xc+0.095", "as": "x2"},{"calculate": "datum.xc-0.045", "as": "c1"},{"calculate": "datum.xc+0.045", "as": "c2"},{"calculate": "datum.m+datum.e", "as": "top"}],
    "layer": [
     {"mark": {"type": "rect", "stroke": "#000", "strokeWidth": 1},
      "encoding": {
       "x": {"field": "x1", "type": "quantitative", "scale": {"domain": [-0.5, 5.6], "nice": false, "zero": false}, "axis": {"values": [0.5,1.5,2.5,3.5,4.5,5.5], "labelExpr": "['comma','1.5 fold','2 fold','2.5 fold','3 fold','4 fold'][floor(datum.value)]", "labelOffset": -23.5, "title": "Developmental stages", "titlePadding": 6}},
       "x2": {"field": "x2"},
       "y": {"field": "m", "type": "quantitative", "scale": {"domain": [0, 65], "range": [173, 8], "nice": false}, "axis": {"values": [0,10,20,30,40,50,60], "tickCount": 7, "labelOverlap": false, "title": "Number of cell corpses"}},
       "y2": {"datum": 0},
       "color": {"field": "name", "type": "nominal", "scale": {"domain": ["ced-1(e1735)","ced-1; ex[PhsptDCR-1(del)] #1","ced-1; ex[PhsptDCR-1(del)] #2","ced-1; ex[PhsptDCR-1(del)] #3"], "range": ["#ffffff","#000000","#c4c4c4","#898989"]}, "legend": {"title": null, "legendX": 56, "legendY": -5.5}}
      }},
     {"mark": {"type": "rule", "color": "#000"}, "encoding": {"x": {"field": "xc", "type": "quantitative"}, "y": {"field": "m", "type": "quantitative"}, "y2": {"field": "top"}}},
     {"mark": {"type": "rule", "color": "#000"}, "encoding": {"x": {"field": "c1", "type": "quantitative"}, "x2": {"field": "c2"}, "y": {"field": "top", "type": "quantitative"}}}
    ]},
   {"data": {"name": "brk"},
    "transform": [{"filter": "datum.p==='G'"},{"calculate": "indexof(['comma','1.5 fold','2 fold','2.5 fold','3 fold','4 fold'],datum.s)", "as": "si"},
     {"calculate": "datum.si+(datum.a-1.5)*0.19", "as": "xa"},{"calculate": "datum.si+(datum.b-1.5)*0.19", "as": "xb"},{"calculate": "(datum.xa+datum.xb)/2", "as": "xm"}],
    "layer": [
     {"mark": {"type": "rule", "color": "#000", "strokeWidth": 1.3}, "encoding": {"x": {"field": "xa", "type": "quantitative"}, "x2": {"field": "xb"}, "y": {"field": "h", "type": "quantitative"}}},
     {"transform": [{"fold": ["xa","xb"], "as": ["side","xl"]}], "mark": {"type": "rule", "color": "#000", "strokeWidth": 1.3}, "encoding": {"x": {"field": "xl", "type": "quantitative"}, "y": {"field": "h", "type": "quantitative"}, "y2": {"field": "lo"}}},
     {"mark": {"type": "text", "color": "#000", "fontSize": 10, "fontWeight": "bold", "baseline": "alphabetic", "dy": 2.5}, "encoding": {"x": {"field": "xm", "type": "quantitative"}, "y": {"field": "h", "type": "quantitative"}, "text": {"field": "t"}}}
    ]}
  ]}
],
"spacing": {"row": 84, "column": 112}, "bounds": "flush", "align": "each",
"resolve": {"scale": {"color": "independent"}, "legend": {"color": "independent"}},
"config": {
 "view": {"stroke": null},
 "font": "Liberation Sans",
 "axis": {"grid": false, "domainColor": "#000", "tickColor": "#000", "labelColor": "#000", "labelFont": "Liberation Sans", "labelFontWeight": "bold", "labelFontSize": 11, "titleFont": "Liberation Sans", "titleFontWeight": "bold", "titleColor": "#000", "domainWidth": 1, "tickWidth": 1, "labelOverlap": false},
 "axisX": {"tickSize": 5, "labelFlush": false, "labelOverlap": false, "labelBound": false, "labelPadding": 3, "titleFontSize": 15, "titlePadding": 10},
 "axisY": {"tickSize": 3, "labelPadding": 2, "titleFontSize": 12, "titlePadding": 10, "labelOverlap": false},
 "legend": {"orient": "none", "padding": 0, "symbolType": "square", "symbolSize": 64, "labelFont": "Liberation Sans", "labelFontSize": 11, "labelFontWeight": "bold", "labelColor": "#000", "rowPadding": -2, "labelOffset": 4, "labelLimit": 400, "symbolStrokeColor": "#999999", "symbolStrokeWidth": 1},
 "title": {"font": "Liberation Sans", "fontSize": 16, "fontWeight": "bold", "anchor": "start", "frame": "group", "color": "#000", "baseline": "bottom"},
 "text": {"font": "Liberation Sans", "color": "#000"}
}
}
